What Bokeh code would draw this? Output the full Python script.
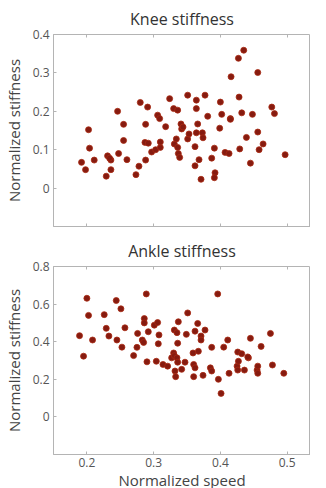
from bokeh.plotting import figure
from bokeh.layouts import column
from bokeh.models import FixedTicker, LinearAxis, CustomJSTickFormatter, Range1d
from bokeh.embed import file_html
from bokeh.resources import INLINE

knee_speed = [0.246,0.280,0.291,0.306,0.324,0.330,0.336,0.351,0.364,0.364,0.377,0.381,0.400,0.402,0.415,0.416,0.427,0.435,0.428,0.432,0.448,0.456,0.477,0.481,
              0.309,0.318,0.288,0.255,0.2025,0.204,0.211,0.192,0.198,0.229,0.231,0.236,0.236,0.2475,0.255,0.260,0.2735,0.278,0.288,0.287,0.292,0.297,0.303,0.310,0.310,0.331,0.334,0.336,0.337,0.339,0.341,0.342,0.344,0.351,0.353,0.364,0.366,0.362,0.362,0.368,0.371,0.373,0.374,0.387,0.391,0.392,0.391,0.399,0.407,0.413,0.415,0.429,0.439,0.445,0.456,0.458,0.464,0.497,0.234]
knee_stiffness = [0.200,0.223,0.211,0.190,0.233,0.207,0.203,0.242,0.229,0.207,0.242,0.187,0.224,0.192,0.181,0.290,0.338,0.359,0.237,0.196,0.192,0.301,0.211,0.194,
                  0.181,0.160,0.166,0.166,0.152,0.104,0.073,0.067,0.048,0.031,0.084,0.073,0.048,0.090,0.124,0.074,0.035,0.057,0.073,0.119,0.117,0.094,0.100,0.106,0.120,0.115,0.128,0.106,0.090,0.080,0.167,0.154,0.159,0.128,0.141,0.144,0.167,0.108,0.058,0.074,0.023,0.144,0.131,0.078,0.104,0.040,0.027,0.156,0.093,0.090,0.179,0.102,0.132,0.065,0.146,0.100,0.115,0.087,0.078]

ankle_speed = [0.189,0.200,0.2025,0.2085,0.226,0.229,0.233,0.244,0.245,0.251,0.257,0.2525,0.276,0.270,0.275,0.283,0.285,0.286,0.286,0.289,0.292,0.301,0.306,0.308,0.307,0.331,0.335,0.337,0.351,0.349,0.336,0.330,0.359,0.362,0.366,0.371,0.371,0.377,0.367,0.387,0.396,0.405,0.411,0.426,0.432,0.445,0.461,0.475,0.442,
               0.195,0.290,0.304,0.314,0.321,0.327,0.331,0.335,0.336,0.332,0.333,0.342,0.347,0.360,0.362,0.360,0.374,0.385,0.387,0.397,0.401,0.413,0.425,0.427,0.426,0.436,0.441,0.455,0.456,0.456,0.478,0.495]
ankle_stiffness = [0.432,0.631,0.540,0.409,0.544,0.471,0.430,0.619,0.409,0.575,0.474,0.371,0.444,0.326,0.370,0.409,0.396,0.523,0.500,0.654,0.453,0.488,0.502,0.436,0.389,0.462,0.448,0.506,0.553,0.439,0.392,0.340,0.340,0.456,0.497,0.430,0.409,0.462,0.349,0.370,0.654,0.371,0.409,0.345,0.336,0.418,0.375,0.444,0.314,
                   0.323,0.293,0.296,0.279,0.270,0.314,0.326,0.314,0.291,0.244,0.214,0.253,0.291,0.279,0.261,0.214,0.221,0.261,0.244,0.200,0.125,0.232,0.270,0.296,0.249,0.249,0.319,0.249,0.270,0.232,0.276,0.232]

x_ticks = [0.2, 0.3, 0.4, 0.5]
knee_ticks = [0, 0.1, 0.2, 0.3, 0.4]
ankle_ticks = [0, 0.2, 0.4, 0.6, 0.8]

FONT = "Open Sans"
AX = "#b4b4b4"
fmt = CustomJSTickFormatter(code="return String(Math.round(tick*10)/10);")
blank = CustomJSTickFormatter(code="return '';")


def make(title, xs, ys, yr, yticks, show_x, frame_h, bt, bb):
    p = figure(frame_width=257, frame_height=frame_h, output_backend="svg", toolbar_location=None,
               x_range=Range1d(0.15, 0.535), y_range=Range1d(*yr),
               min_border_left=53, min_border_right=0, min_border_top=bt, min_border_bottom=bb)
    p.title.text = title
    p.title.align = "center"
    p.title.text_font = FONT
    p.title.text_font_size = "16px"
    p.title.text_font_style = "normal"
    p.title.text_color = "#333333"
    p.title.offset = 20
    p.grid.visible = False
    p.outline_line_color = AX
    p.background_fill_color = "white"
    p.border_fill_color = "white"
    for ax in (p.xaxis[0], p.yaxis[0]):
        ax.axis_line_color = AX
        ax.major_tick_line_color = AX
        ax.major_tick_in = 3
        ax.major_tick_out = 0
        ax.minor_tick_line_color = None
        ax.major_label_text_font = FONT
        ax.major_label_text_font_size = "12px"
        ax.major_label_text_color = "#555555"
        ax.axis_label_text_font = FONT
        ax.axis_label_text_font_size = "15px"
        ax.axis_label_text_font_style = "normal"
        ax.axis_label_text_color = "#444444"
        ax.formatter = fmt
    p.xaxis.ticker = FixedTicker(ticks=x_ticks)
    p.yaxis.ticker = FixedTicker(ticks=yticks)
    p.yaxis.axis_label = "Normalized stiffness"
    p.yaxis.axis_label_standoff = 6
    p.yaxis.major_label_standoff = 4
    if show_x:
        p.xaxis.axis_label = "Normalized speed"
        p.xaxis.axis_label_standoff = 0
        p.xaxis.major_label_standoff = 3
    else:
        p.xaxis.formatter = blank
        p.xaxis.major_label_standoff = 0
    top = LinearAxis(ticker=FixedTicker(ticks=x_ticks), axis_line_color=None,
                     major_tick_line_color=AX, major_tick_in=3, major_tick_out=0,
                     minor_tick_line_color=None, formatter=blank,
                     major_label_standoff=0)
    p.add_layout(top, "above")
    p.scatter(xs, ys, size=6, fill_color="#861b10", line_color="#a82a12", line_width=0.8)
    return p


p1 = make("Knee stiffness", knee_speed, knee_stiffness, (-0.1, 0.4), knee_ticks, False, 192, 27, 6)
p2 = make("Ankle stiffness", ankle_speed, ankle_stiffness, (-0.2, 0.8), ankle_ticks, True, 188, 26, 28)

p = column(p1, p2, spacing=0)
open("out.html", "w").write(file_html(p, INLINE))
